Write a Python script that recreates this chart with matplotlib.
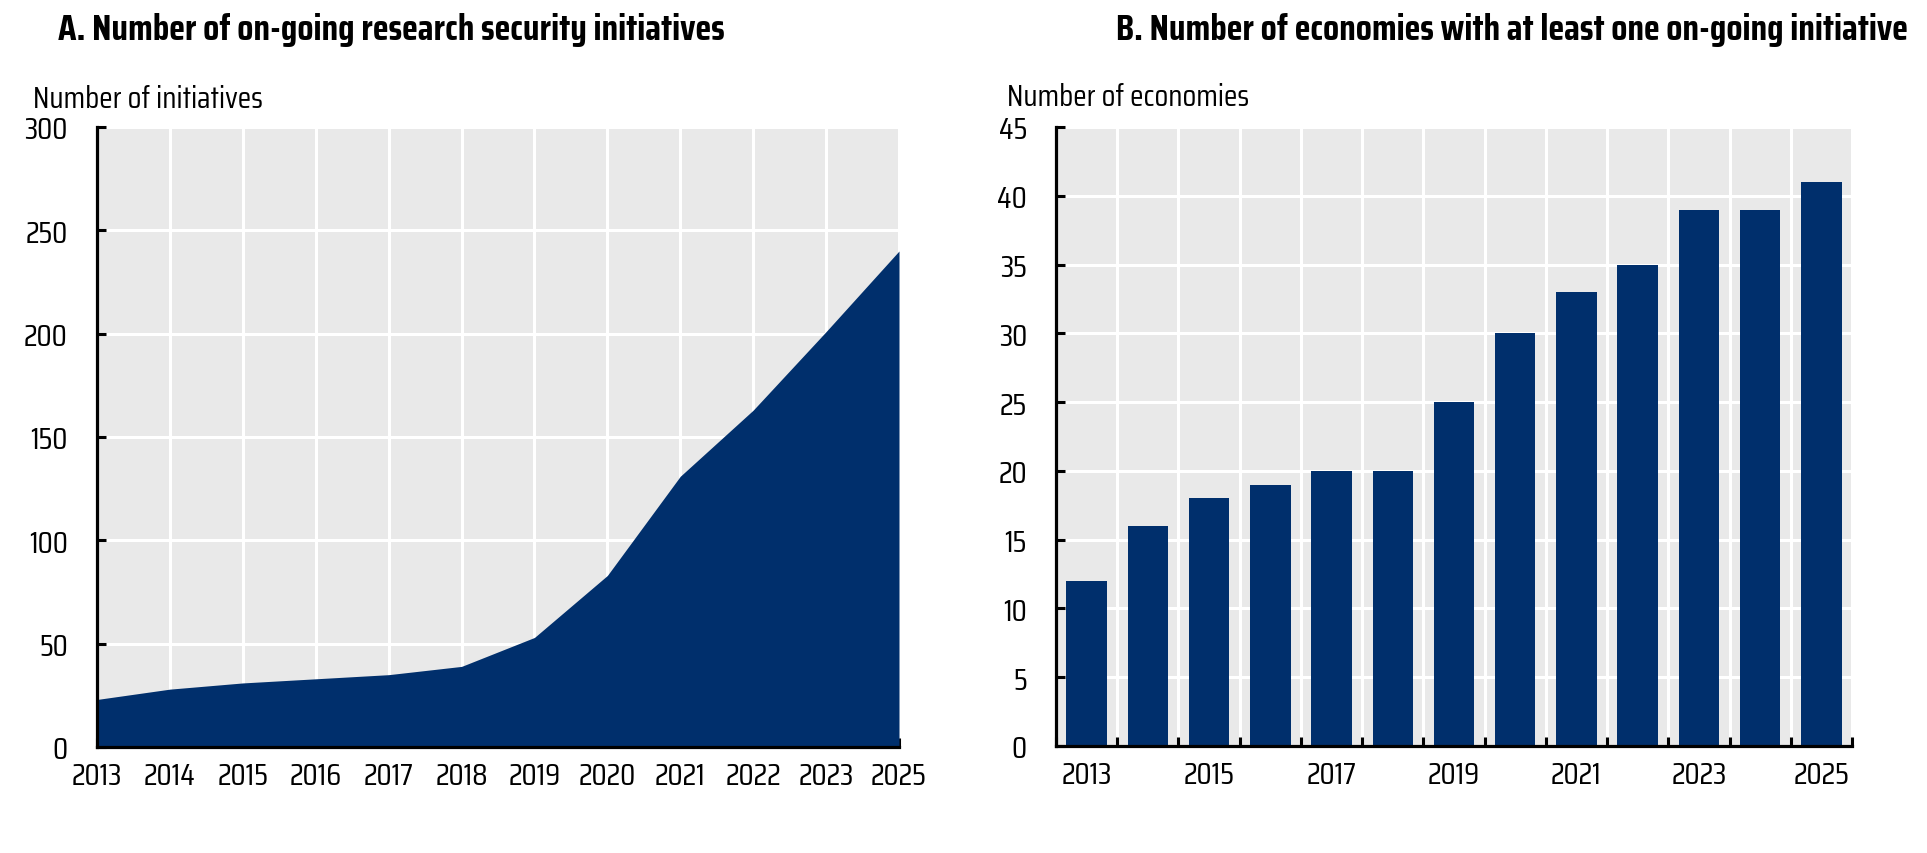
import matplotlib
matplotlib.use("Agg")
import matplotlib.pyplot as plt
from matplotlib import font_manager
from matplotlib.font_manager import FontProperties, weight_dict
import numpy as np

plt.rcParams['font.family'] = ['Liberation Sans', 'DejaVu Sans']

# Panel A data
a_labels = ["2013", "2014", "2015", "2016", "2017", "2018", "2019", "2020",
            "2021", "2022", "2023", "2025"]
a_values = [23, 28, 31, 33, 35, 39, 53, 83, 131, 163, 201, 240]

# Panel B data
b_years = ["2013", "2014", "2015", "2016", "2017", "2018", "2019", "2020",
           "2021", "2022", "2023", "2024", "2025"]
b_values = [12, 16, 18, 19, 20, 20, 25, 30, 33, 35, 39, 39, 41]

TITLE_A = "A. Number of on-going research security initiatives"
TITLE_B = "B. Number of economies with at least one on-going initiative"
YLAB_A = "Number of initiatives"
YLAB_B = "Number of economies"

NAVY = "#002F6C"
GRAY = "#E9E9E9"
W, H = 1927, 854
fig = plt.figure(figsize=(W / 100, H / 100), dpi=100)
renderer = fig.canvas.get_renderer()


def text_width(fp, s, size=10):
    fp = fp.copy()
    fp.set_size(size)
    t = fig.text(0, 0, s, fontproperties=fp)
    w = t.get_window_extent(renderer).width
    t.remove()
    return w


def wnum(w):
    if isinstance(w, (int, float)):
        return w
    return weight_dict.get(str(w), 400)


# --- find a narrow sans font (Arial Narrow-like), else Liberation Sans ---
base_reg = FontProperties(family="Liberation Sans")
base_bold = FontProperties(family="Liberation Sans", weight="bold")
groups = {}
for f in font_manager.fontManager.ttflist:
    low = f.name.lower()
    st = str(f.stretch).lower()
    if f.style != "normal":
        continue
    if any(k in low for k in ("mono", "serif", "cjk", "math", "emoji", "symbol")):
        continue
    narrowish = ("narrow" in low) or ("condensed" in low) or ("condensed" in st) \
        or (st.isdigit() and int(st) < 500)
    if not narrowish:
        continue
    key = (f.name, st if "condensed" in st else "")
    groups.setdefault(key, []).append(f)

ref_w = text_width(base_reg, YLAB_A)
best = None
for key, fl in groups.items():
    reg = min(fl, key=lambda f: abs(wnum(f.weight) - 400))
    bold = min(fl, key=lambda f: abs(wnum(f.weight) - 700))
    if abs(wnum(reg.weight) - 400) > 100:
        continue
    fp_r = FontProperties(fname=reg.fname)
    ratio = text_width(fp_r, YLAB_A) / ref_w
    score = abs(ratio - 0.82)
    if best is None or score < best[0]:
        fp_b = FontProperties(fname=bold.fname) if wnum(bold.weight) >= 600 else \
            FontProperties(fname=reg.fname, weight="bold")
        best = (score, fp_r, fp_b)

if best is not None and best[0] < 0.12:
    FP_R, FP_B = best[1], best[2]
else:
    FP_R, FP_B = base_reg, base_bold

# fit sizes to the widths measured on the reference
FS = 10 * 230.0 / text_width(FP_R, YLAB_A)
TFS = 10 * 669.0 / text_width(FP_B, TITLE_A)


def fp(base, size):
    p = base.copy()
    p.set_size(size)
    return p


def px_axes(l, r, t, b):
    return fig.add_axes([l / W, 1 - b / H, (r - l) / W, (b - t) / H])


def style(ax):
    ax.set_facecolor(GRAY)
    for s in ["top", "right"]:
        ax.spines[s].set_visible(False)
    for s in ["left", "bottom"]:
        ax.spines[s].set_linewidth(2.3)
        ax.spines[s].set_color("black")
        ax.spines[s].set_zorder(5)
    ax.tick_params(axis="both", which="major", direction="in", length=6.5,
                   width=2.2, color="black")
    ax.tick_params(axis="y", pad=21)
    ax.tick_params(axis="x", pad=10)
    ax.set_axisbelow(True)


def font_ticks(ax):
    for lab in ax.get_xticklabels(which="both") + ax.get_yticklabels(which="both"):
        lab.set_fontproperties(fp(FP_R, FS))


# ---- Panel A ----
axA = px_axes(97, 899, 128, 748)
style(axA)
xa = np.arange(len(a_values))
axA.fill_between(xa, 0, a_values, color=NAVY, linewidth=0, zorder=3)
axA.set_xlim(0, len(a_values) - 1)
axA.set_ylim(0, 300)
axA.set_yticks(np.arange(0, 301, 50))
axA.set_xticks(xa)
axA.set_xticklabels(a_labels)
axA.grid(True, color="white", linewidth=2.2)
font_ticks(axA)

# ---- Panel B ----
axB = px_axes(1056, 1852, 128, 747)
style(axB)
xb = np.arange(len(b_values))
axB.bar(xb, b_values, width=0.66, color=NAVY, zorder=3)
axB.set_xlim(-0.5, len(b_values) - 0.5)
axB.set_ylim(0, 45)
axB.set_yticks(np.arange(0, 46, 5))
axB.set_xticks(np.arange(-0.5, len(b_values), 1.0))
axB.set_xticklabels([])
axB.set_xticks(xb[::2], minor=True)
axB.set_xticklabels(b_years[::2], minor=True)
axB.tick_params(axis="x", which="minor", length=0, pad=10)
axB.grid(True, which="major", color="white", linewidth=2.2)
font_ticks(axB)

# ---- Titles and axis captions ----
fig.text(58 / W, 1 - 40 / H, TITLE_A, fontproperties=fp(FP_B, TFS),
         ha="left", va="baseline")
fig.text(1908 / W, 1 - 40 / H, TITLE_B, fontproperties=fp(FP_B, TFS),
         ha="right", va="baseline")
fig.text(33 / W, 1 - 108 / H, YLAB_A, fontproperties=fp(FP_R, FS),
         ha="left", va="baseline")
fig.text(1007 / W, 1 - 106 / H, YLAB_B, fontproperties=fp(FP_R, FS),
         ha="left", va="baseline")

fig.savefig("out.png", dpi=100)
